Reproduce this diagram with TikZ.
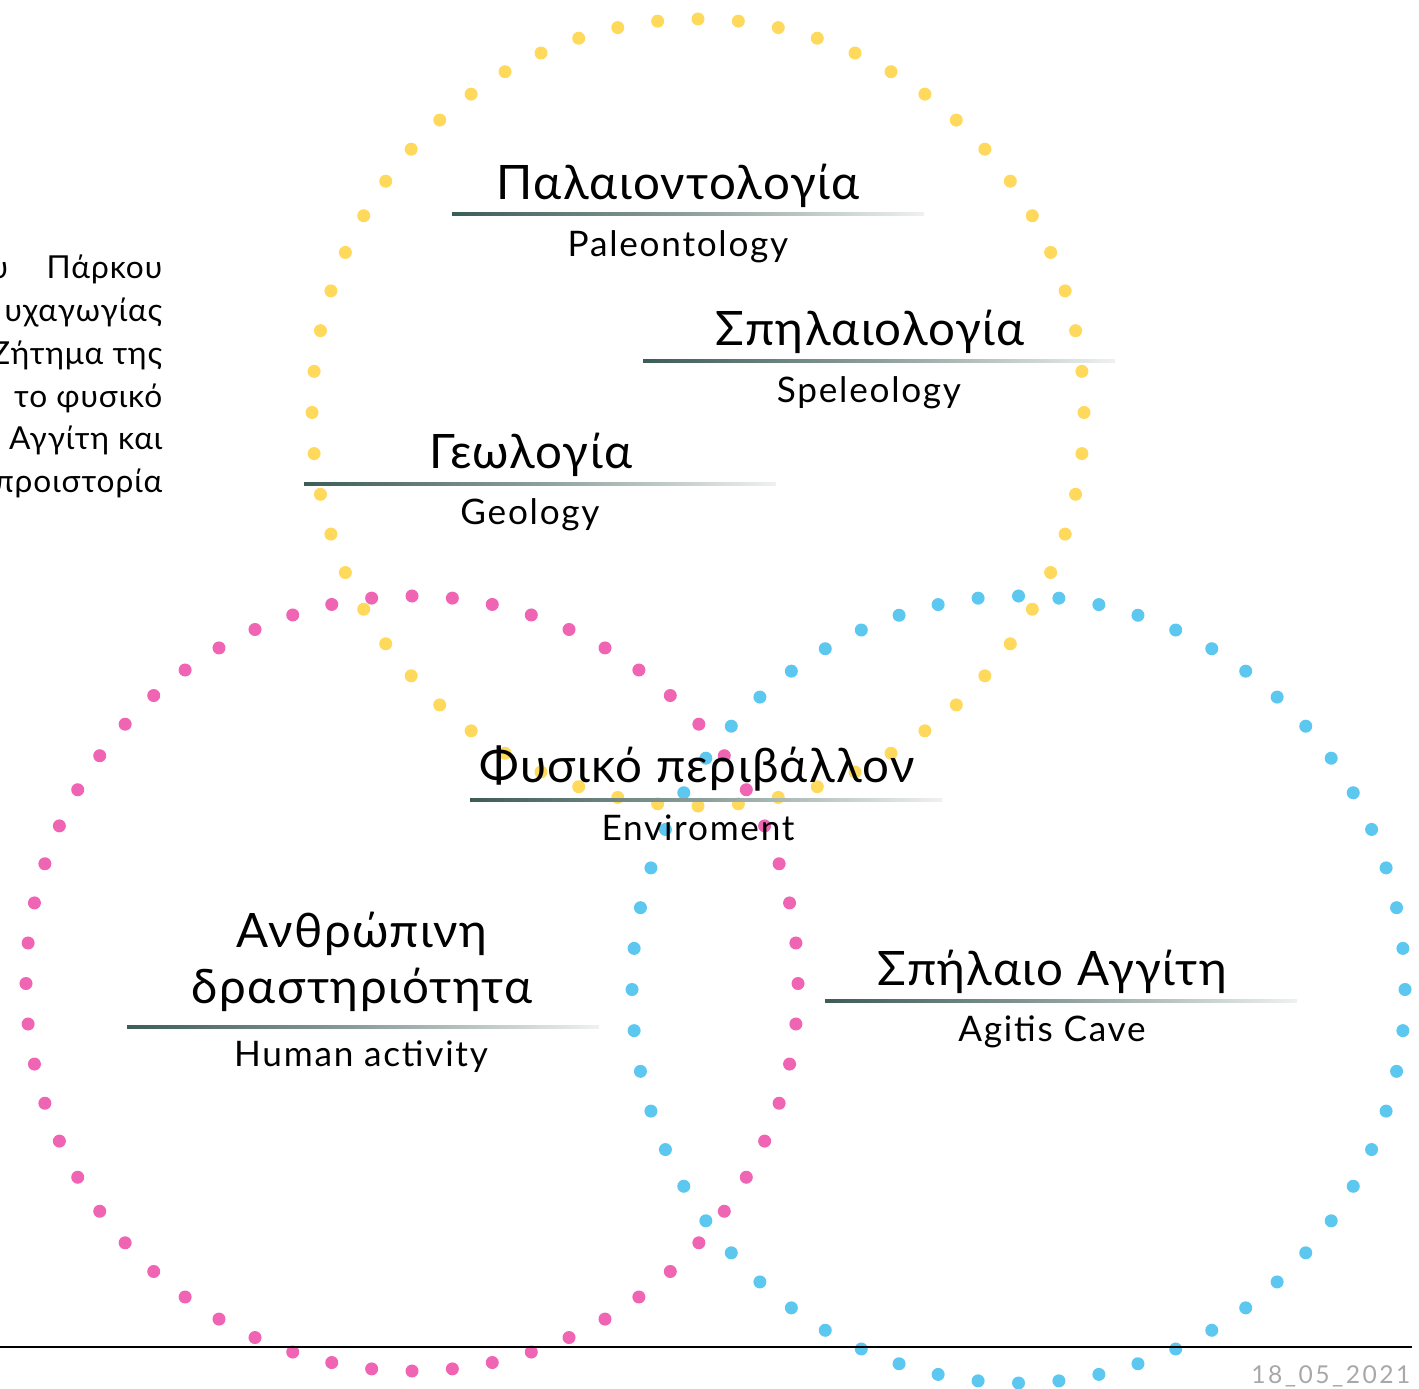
\documentclass[tikz,border=0pt]{standalone}
\usepackage{fontspec}
\setmainfont{Lato}
\usetikzlibrary{positioning}

\definecolor{dotYellow}{HTML}{FFD95C}
\definecolor{dotPink}{HTML}{F064B4}
\definecolor{dotBlue}{HTML}{5CC8F0}
\definecolor{ruleDark}{HTML}{3D5C58}
\definecolor{ruleLight}{HTML}{EEF1F0}
\definecolor{dateGray}{HTML}{A8A8A8}

\def \yelCenterX{698}
\def \yelCenterY{412.5}
\def \yelRadX{386}
\def \yelRadY{393.5}
\def \pinkCenterX{412}
\def \pinkCenterY{983.5}
\def \pinkRadX{386}
\def \pinkRadY{387.5}
\def \bluCenterX{1018.5}
\def \bluCenterY{989.5}
\def \bluRadX{386.5}
\def \bluRadY{393.5}
\def \dotRadius{1.85pt}
\def \ruleLength{472}

\tikzset{
  grLabel/.style={anchor=base, font=\fontsize{13.5}{16}\selectfont\addfontfeature{LetterSpace=3}},
  enLabel/.style={anchor=base, font=\fontsize{10}{12}\selectfont\addfontfeature{LetterSpace=5}},
  paraLine/.style={anchor=base east, inner sep=0pt, font=\fontsize{9}{11}\selectfont\addfontfeature{LetterSpace=3}},
  ruleShade/.style={left color=ruleDark, right color=ruleLight, middle color=ruleDark!55!ruleLight}
}

\begin{document}
\begin{tikzpicture}[x=0.01cm, y=-0.01cm]
\useasboundingbox (0,0) rectangle (1419,1389);
\clip (0,0) rectangle (1419,1389);

% ---- Dotted circles
% ---- yellow
\foreach \a in {0,6,...,354}
  \fill[dotYellow] ({\yelCenterX + \yelRadX*cos(\a)}, {\yelCenterY + \yelRadY*sin(\a)}) circle [radius = \dotRadius];
% ---- pink
\foreach \a in {0,6,...,354}
  \fill[dotPink] ({\pinkCenterX + \pinkRadX*cos(\a)}, {\pinkCenterY + \pinkRadY*sin(\a)}) circle [radius = \dotRadius];
% ---- blue
\foreach \a in {0,6,...,354}
  \fill[dotBlue] ({\bluCenterX + \bluRadX*cos(\a)}, {\bluCenterY + \bluRadY*sin(\a)}) circle [radius = \dotRadius];

% ---- Rules under the titles
\shade[ruleShade] (452, 213) rectangle ++(\ruleLength, 3);
\shade[ruleShade] (643, 360) rectangle ++(\ruleLength, 3);
\shade[ruleShade] (304, 483) rectangle ++(\ruleLength, 3);
\shade[ruleShade] (470, 798) rectangle ++(\ruleLength, 3);
\shade[ruleShade] (127, 1025) rectangle ++(\ruleLength, 3);
\shade[ruleShade] (825, 999) rectangle ++(\ruleLength, 3);

% ---- Titles
\node[grLabel] (paleoGr) at (678, 200) {Παλαιοντολογία};
\node[enLabel] (paleoEn) at (678, 257) {Paleontology};
\node[grLabel] (speleoGr) at (870, 346) {Σπηλαιολογία};
\node[enLabel] (speleoEn) at (869, 403) {Speleology};
\node[grLabel] (geoGr) at (531, 469) {Γεωλογία};
\node[enLabel] (geoEn) at (530, 525) {Geology};
\node[grLabel] (envGr) at (697, 782) {Φυσικό περιβάλλον};
\node[enLabel] (envEn) at (698, 840) {Enviroment};
\node[grLabel] (humanGrA) at (362, 947) {Ανθρώπινη};
\node[grLabel] (humanGrB) at (362, 1003) {δραστηριότητα};
\node[enLabel] (humanEn) at (361, 1066) {Human activity};
\node[grLabel] (caveGr) at (1052, 985) {Σπήλαιο Αγγίτη};
\node[enLabel] (caveEn) at (1052, 1041) {Agitis Cave};

% ---- Paragraph on the left (cut by the page edge)
\node[paraLine] (paraA) at (163, 279) {υ\hspace{11pt}Πάρκου};
\node[paraLine] (paraB) at (163, 322) {υχαγωγίας};
\node[paraLine] (paraC) at (163, 365) {Ζήτημα της};
\node[paraLine] (paraD) at (163, 408) {το φυσικό};
\node[paraLine] (paraE) at (163, 450) {Αγγίτη και};
\node[paraLine] (paraF) at (163, 493) {προιστορία};

% ---- Bottom rule and date
\draw[line width=0.4pt] (0, 1347) -- (1412, 1347);
\node[anchor=base east, inner sep=0pt, text=dateGray, font=\fontsize{7}{8}\selectfont\addfontfeature{LetterSpace=10}] (date) at (1411, 1383) {18\_05\_2021};
\end{tikzpicture}
\end{document}
